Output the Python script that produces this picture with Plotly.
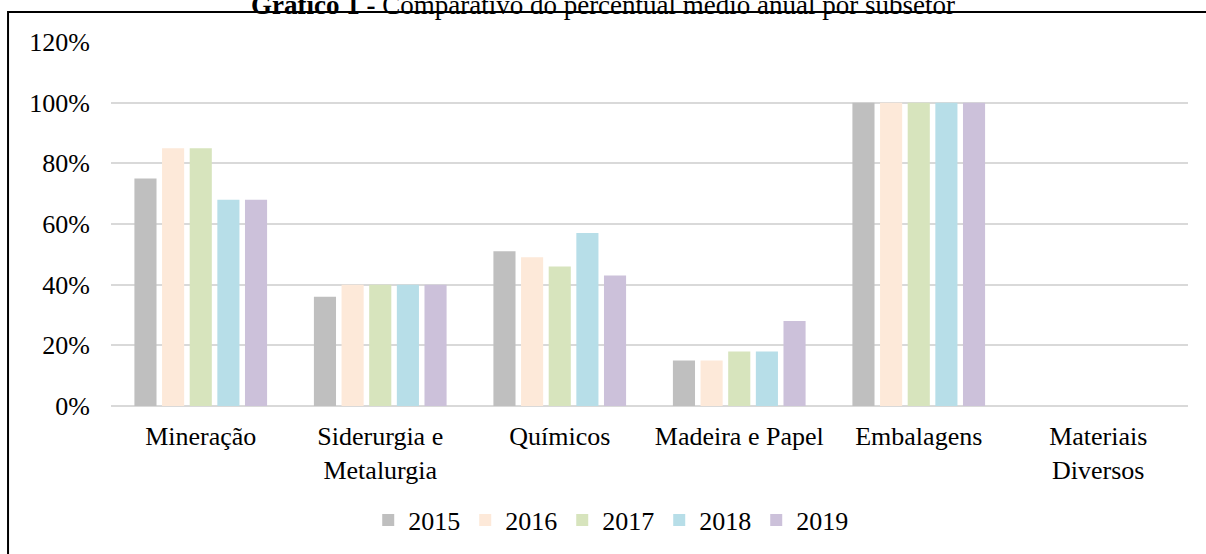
import plotly.graph_objects as go

# subsetores e anos
categorias = ["Mineração", "Siderurgia e<br>Metalurgia", "Químicos",
              "Madeira e Papel", "Embalagens", "Materiais<br>Diversos"]
anos = ["2015", "2016", "2017", "2018", "2019"]

v2015 = [0.75, 0.36, 0.51, 0.15, 1.00, None]
v2016 = [0.85, 0.40, 0.49, 0.15, 1.00, None]
v2017 = [0.85, 0.40, 0.46, 0.18, 1.00, None]
v2018 = [0.68, 0.40, 0.57, 0.18, 1.00, None]
v2019 = [0.68, 0.40, 0.43, 0.28, 1.00, None]

y_ticks = [0, 0.2, 0.4, 0.6, 0.8, 1.0, 1.2]

cores = ["#BFBFBF", "#FDE9D9", "#D7E4BD", "#B7DEE8", "#CCC1DA"]
FONT = "Liberation Serif, Times New Roman, serif"

fig = go.Figure()
for ano, vals, cor in zip(anos, [v2015, v2016, v2017, v2018, v2019], cores):
    fig.add_trace(go.Bar(x=categorias, y=vals, name=ano,
                         marker=dict(color=cor, line=dict(width=0)),
                         hoverinfo="skip"))

fig.update_layout(
    width=1206, height=554,
    template="plotly_white",
    paper_bgcolor="white", plot_bgcolor="white",
    font=dict(family=FONT, size=26, color="black"),
    margin=dict(l=111, r=18, t=42, b=147),
    barmode="group", bargap=0.23, bargroupgap=0.2,
    title=dict(text="<b>Gráfico 1 -</b> Comparativo do percentual médio anual por subsetor",
               x=0.5, xanchor="center", xref="container",
               y=0.9925, yanchor="middle", yref="container",
               font=dict(family=FONT, size=27, color="black")),
    legend=dict(orientation="h", x=0.464, xanchor="center", y=-0.31, yanchor="middle",
                font=dict(family=FONT, size=26, color="black"),
                itemclick=False, itemdoubleclick=False),
    showlegend=True,
)

fig.update_yaxes(range=[0, 1.2], tickvals=y_ticks, tickformat=".0%",
                 showgrid=True, gridcolor="#D9D9D9", gridwidth=1.5,
                 zeroline=True, zerolinecolor="#D9D9D9", zerolinewidth=1.5,
                 showline=False, ticks="", ticklabelstandoff=20)
fig.update_xaxes(showgrid=False, showline=False, ticks="", tickangle=0,
                 ticklabelstandoff=12)

# moldura (só topo e esquerda visíveis)
fig.add_shape(type="rect", xref="paper", yref="paper",
              x0=-0.0956, x1=1.1, y0=-0.7, y1=1.0822,
              line=dict(color="black", width=2), fillcolor="rgba(0,0,0,0)",
              layer="above")

fig.write_html("out.html", config={"displayModeBar": False},
               post_script="document.body.style.margin='0';")
